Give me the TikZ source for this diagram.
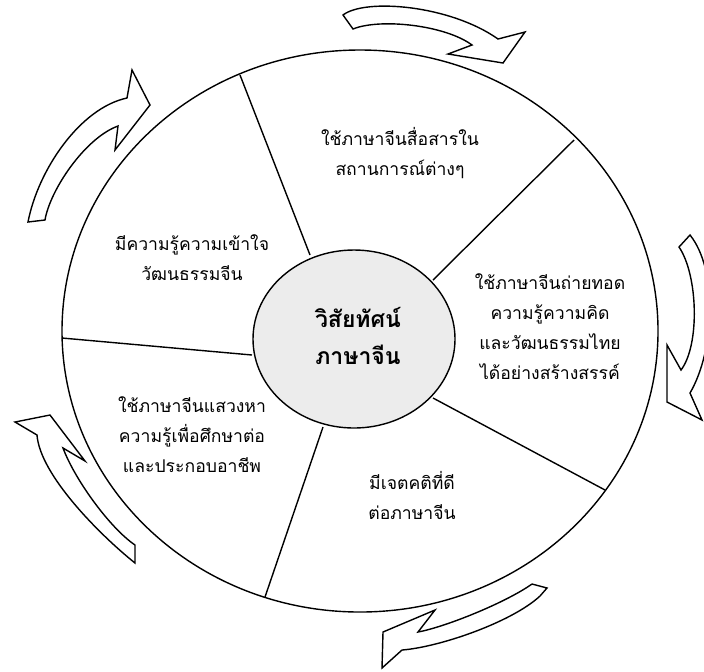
\documentclass[tikz,border=0pt]{standalone}
\usepackage{fontspec}
\newfontfamily\thaifont[Script=Thai]{Loma}
\begin{document}
\begin{tikzpicture}[x=0.5pt,y=-0.5pt,
  rim/.style={draw, line width=0.7pt},
  bentarrow/.style={draw, fill=white, line width=0.7pt},
  txt/.style={font=\thaifont\fontsize{8.8}{15}\selectfont, align=center}]
\useasboundingbox (0,0) rectangle (704,671);
\clip (0,0) rectangle (704,671);

\draw[rim] (360,331) ellipse [x radius=298, y radius=281];
\foreach \xa/\ya/\xb/\yb in {310/255/240/75, 433/280/574/140, 433/398/605/490,
  323/427/265/597, 252/355/62/338}
{
  \draw[rim] (\xa,\ya)--(\xb,\yb);
}
\draw[rim, fill=gray!15] (354,339) ellipse [x radius=101, y radius=89];

\node[txt, font=\thaifont\bfseries\fontsize{11.5}{18.5}\selectfont] (vision) at (358,336) {วิสัยทัศน์\\ภาษาจีน};
\node[txt] (talk) at (400,153) {ใช้ภาษาจีนสื่อสารใน\\สถานการณ์ต่างๆ};
\node[txt] (share) at (550,327) {ใช้ภาษาจีนถ่ายทอด\\ความรู้ความคิด\\และวัฒนธรรมไทย\\ได้อย่างสร้างสรรค์};
\node[txt] (attitude) at (412,495) {มีเจตคติที่ดี\\ต่อภาษาจีน};
\node[txt] (career) at (192,435) {ใช้ภาษาจีนแสวงหา\\ความรู้เพื่อศึกษาต่อ\\และประกอบอาชีพ};
\node[txt] (culture) at (192,258) {มีความรู้ความเข้าใจ\\วัฒนธรรมจีน};

% arrows round the ring
\draw[bentarrow] (343,15) .. controls (365,-2) and (450,5) .. (498,39) -- (525,32) -- (503,63)
  -- (448,54) -- (472,45) .. controls (445,25) and (380,18) .. (353,29) -- cycle;
\draw[bentarrow] (690,235) .. controls (718,270) and (715,350) .. (690,393) -- (702,420) -- (667,402)
  -- (667,345) -- (681,370) .. controls (700,345) and (698,275) .. (679,247) -- cycle;
\draw[bentarrow] (532,584) -- (547,588) -- (540,596) .. controls (512,622) and (440,647) .. (402,650)
  -- (382,668) -- (383,632) -- (435,610) -- (418,632) .. controls (445,627) and (505,603) .. (532,584);
\draw[bentarrow] (135,563) .. controls (100,535) and (40,475) .. (37,435) -- (15,422) -- (50,415)
  -- (85,461) -- (63,448) .. controls (75,480) and (110,528) .. (135,545) -- cycle;
\draw[bentarrow] (28,222) .. controls (38,170) and (80,108) .. (127,98) -- (132,70) -- (150,105)
  -- (115,150) -- (118,126) .. controls (85,138) and (50,190) .. (45,220) -- cycle;
\end{tikzpicture}
\end{document}
